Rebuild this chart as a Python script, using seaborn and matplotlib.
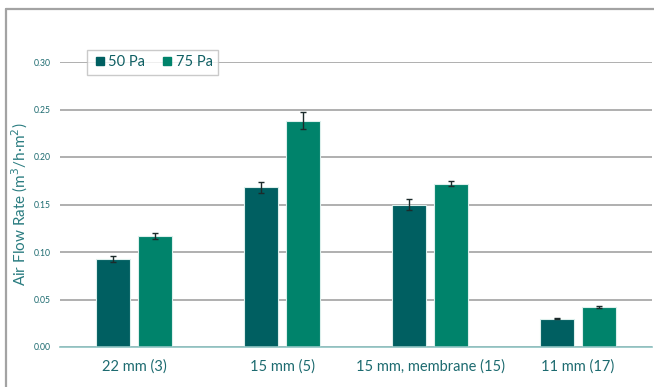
import matplotlib
matplotlib.use("Agg")
import matplotlib.pyplot as plt
from matplotlib.lines import Line2D
import seaborn as sns
import pandas as pd

# Samples and measured air flow rates (m³/h·m²)
categories = ["22 mm (3)", "15 mm (5)", "15 mm, membrane (15)", "11 mm (17)"]
pressures = ["50 Pa", "75 Pa"]
flow_50 = [0.093, 0.168, 0.150, 0.030]
flow_75 = [0.117, 0.238, 0.172, 0.042]
err_50 = [0.003, 0.006, 0.006, 0.001]
err_75 = [0.003, 0.009, 0.003, 0.001]
yticks = [0.00, 0.05, 0.10, 0.15, 0.20, 0.25, 0.30]

df = pd.DataFrame({
    "sample": categories * 2,
    "pressure": [pressures[0]] * 4 + [pressures[1]] * 4,
    "flow": flow_50 + flow_75,
    "err": err_50 + err_75,
})

sns.set_theme(style="white")
plt.rcParams["font.family"] = ["Lato", "DejaVu Sans"]

teal_text = "#1d6b70"
palette = {"50 Pa": "#005f61", "75 Pa": "#00836b"}

fig = plt.figure(figsize=(6.54, 3.87), dpi=100)
ax = fig.add_axes([60 / 654, 1 - 347 / 387, 592 / 654, (347 - 62) / 387])

sns.barplot(data=df, x="sample", y="flow", hue="pressure", order=categories,
            hue_order=pressures, palette=palette, saturation=1, width=0.57,
            gap=0.21, errorbar=None, edgecolor="#dcefec", linewidth=0.8,
            ax=ax, zorder=3)

# Error bars at the centres of the drawn bars
for container, errs, vals in zip(ax.containers, [err_50, err_75], [flow_50, flow_75]):
    xs = [p.get_x() + p.get_width() / 2 for p in container.patches]
    ax.errorbar(xs, vals, yerr=errs, fmt="none", ecolor="#1c2b2b",
                elinewidth=1.0, capsize=2.5, capthick=1.0, zorder=4)

ax.set_ylim(0, 0.30)
ax.set_xlim(-0.5, 3.5)
ax.set_yticks(yticks)
ax.set_yticklabels([f"{t:.2f}" for t in yticks])
ax.yaxis.grid(True, color="#a9a9a9", linewidth=1.3, zorder=0)
ax.set_axisbelow(True)
for side in ["top", "right", "left"]:
    ax.spines[side].set_visible(False)
ax.spines["bottom"].set_color("#8fc3c2")
ax.spines["bottom"].set_linewidth(1.2)
ax.spines["bottom"].set_zorder(5)

ax.tick_params(axis="y", length=0, pad=7, labelsize=6.2, labelcolor=teal_text)
ax.tick_params(axis="x", length=0, pad=9, labelsize=10.5, labelcolor=teal_text)
ax.set_xlabel("")
ax.set_ylabel("Air Flow Rate (m$^3$/h·m$^2$)", color="#2a7c80", fontsize=11)
ax.yaxis.set_label_coords(-0.050, 0.5)

handles = [Line2D([], [], marker="s", linestyle="none", markersize=5.5,
                  color=palette[p]) for p in pressures]
leg = ax.legend(handles, pressures, loc="upper left", ncol=2,
                bbox_to_anchor=(80 / 654, 1 - 43 / 387),
                bbox_transform=fig.transFigure, frameon=True, fancybox=False,
                fontsize=10.5, handletextpad=0.1, columnspacing=1.0,
                borderpad=0.35, handlelength=1.0)
leg.get_frame().set_edgecolor("#bdbdbd")
leg.get_frame().set_linewidth(1.0)
for t in leg.get_texts():
    t.set_color("#0f5f63")

# Outer frame of the figure panel
frame_kw = dict(color="#a3a3a3", linewidth=1.6, transform=fig.transFigure)
fig.add_artist(Line2D([6 / 654, 6 / 654], [0, 1 - 9 / 387], **frame_kw))
fig.add_artist(Line2D([6 / 654, 1], [1 - 9 / 387, 1 - 9 / 387], **frame_kw))

fig.savefig("out.png", dpi=100)
